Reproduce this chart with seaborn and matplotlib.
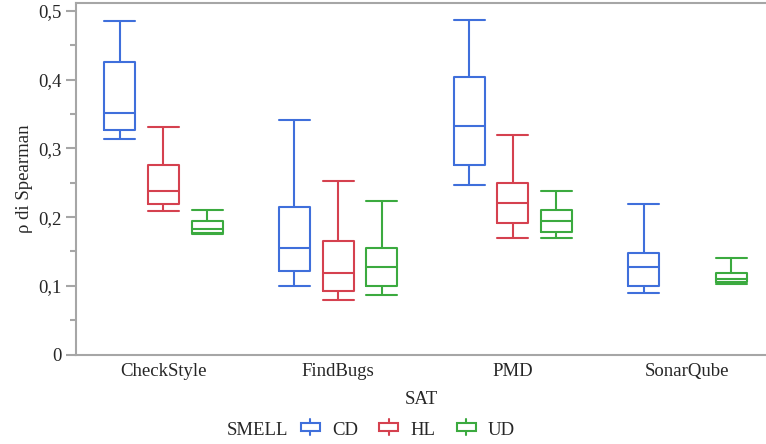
import matplotlib
matplotlib.use("Agg")
import matplotlib.pyplot as plt
from matplotlib.legend_handler import HandlerBase
from matplotlib.lines import Line2D
from matplotlib.patches import Rectangle
from matplotlib.ticker import FuncFormatter, MultipleLocator
import numpy as np
import pandas as pd
import seaborn as sns


sns.set_theme(style="white")
plt.rcParams['font.family'] = ['Liberation Serif', 'DejaVu Serif']

# five-number summaries (min, q1, median, q3, max)
sat_tools = ["CheckStyle", "FindBugs", "PMD", "SonarQube"]
smells = ["CD", "HL", "UD"]

cd_values = {
    "CheckStyle": [0.313, 0.327, 0.351, 0.426, 0.485],
    "FindBugs": [0.100, 0.121, 0.155, 0.214, 0.342],
    "PMD": [0.247, 0.276, 0.333, 0.404, 0.487],
    "SonarQube": [0.090, 0.099, 0.128, 0.148, 0.219],
}
hl_values = {
    "CheckStyle": [0.209, 0.219, 0.238, 0.276, 0.331],
    "FindBugs": [0.079, 0.092, 0.119, 0.165, 0.252],
    "PMD": [0.170, 0.192, 0.221, 0.249, 0.320],
}
ud_values = {
    "CheckStyle": [0.175, 0.177, 0.183, 0.194, 0.211],
    "FindBugs": [0.086, 0.100, 0.128, 0.155, 0.223],
    "PMD": [0.170, 0.179, 0.194, 0.210, 0.238],
    "SonarQube": [0.102, 0.106, 0.110, 0.119, 0.141],
}

colors = ["#3F6FDB", "#D5414F", "#3BAA3F"]
FS = 13.5


def build_frame():
    rows = []
    for smell, table in zip(smells, [cd_values, hl_values, ud_values]):
        for tool, vals in table.items():
            for v in vals:
                rows.append({"SAT": tool, "SMELL": smell, "rho": v})
    return pd.DataFrame(rows)


class BoxGlyph(HandlerBase):
    """small box-and-whisker symbol for the legend"""

    def create_artists(self, legend, orig, xd, yd, width, height, fontsize, trans):
        color = orig.get_edgecolor()
        bh = height * 0.55
        y0 = yd + (height - bh) / 2
        box = Rectangle((xd, y0), width, bh, fill=False, edgecolor=color,
                        linewidth=1.5, transform=trans)
        cx = xd + width / 2
        top = Line2D([cx, cx], [y0 + bh, yd + height * 1.05], color=color,
                     linewidth=1.5, transform=trans)
        bot = Line2D([cx, cx], [yd - height * 0.05, y0], color=color,
                     linewidth=1.5, transform=trans)
        return [box, top, bot]


df = build_frame()

fig = plt.figure(figsize=(7.66, 4.44), dpi=100)
ax = fig.add_axes([76 / 766, 1 - 354.5 / 444, 1 - 76 / 766, 351.5 / 444])

box_w = 0.75 / 3 * (1 - 0.29)
sns.boxplot(data=df, x="SAT", y="rho", hue="SMELL", order=sat_tools,
            hue_order=smells, palette=colors, fill=False, whis=np.inf,
            width=0.75, gap=0.29, linewidth=1.5, ax=ax, legend=True)

# caps as wide as the boxes
for ln in ax.lines:
    xs, ys = ln.get_xdata(), ln.get_ydata()
    if len(xs) == 2 and ys[0] == ys[1] and abs(xs[1] - xs[0]) < box_w * 0.95:
        c = (xs[0] + xs[1]) / 2
        ln.set_xdata([c - box_w / 2, c + box_w / 2])

ax.set_xlim(-0.5, 3.45)
ax.set_ylim(0, 0.5117)
ax.yaxis.set_major_locator(MultipleLocator(0.1))
ax.yaxis.set_minor_locator(MultipleLocator(0.05))
ax.yaxis.set_major_formatter(FuncFormatter(
    lambda v, p: "0" if abs(v) < 1e-9 else f"{v:.1f}".replace(".", ",")))

for side in ["left", "bottom", "top"]:
    ax.spines[side].set_color("#a6a6a6")
    ax.spines[side].set_linewidth(1.5)
ax.spines["right"].set_visible(False)

ax.tick_params(axis="y", which="major", left=True, length=7, width=1.5,
               color="#a6a6a6", labelsize=FS, pad=3)
ax.tick_params(axis="y", which="minor", left=True, length=4, width=1.5,
               color="#a6a6a6")
ax.tick_params(axis="x", length=0, labelsize=FS, pad=6)

ax.set_xlabel("SAT", fontsize=FS, labelpad=8)
ax.set_ylabel("ρ di Spearman", fontsize=FS, labelpad=4)

handles, labels = ax.get_legend_handles_labels()
ax.legend(handles, labels, loc="center", bbox_to_anchor=(408 / 766, 1 - 430 / 444),
          bbox_transform=fig.transFigure, ncol=3, frameon=False, fontsize=FS,
          handlelength=1.0, handleheight=0.8, columnspacing=1.15, handletextpad=0.65,
          handler_map={h: BoxGlyph() for h in handles})
fig.text(258 / 766, 1 - 430 / 444, "SMELL", ha="center", va="center", fontsize=FS)

fig.savefig("out.png", dpi=100)
